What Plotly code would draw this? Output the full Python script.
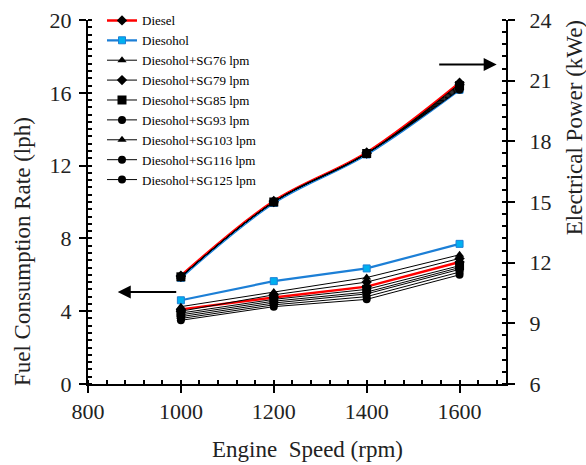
import plotly.graph_objects as go

# ---------------- data ----------------
speeds = [1000, 1200, 1400, 1600]
series_names = ["Diesel", "Diesohol", "Diesohol+SG76 lpm", "Diesohol+SG79 lpm",
                "Diesohol+SG85 lpm", "Diesohol+SG93 lpm", "Diesohol+SG103 lpm",
                "Diesohol+SG116 lpm", "Diesohol+SG125 lpm"]

# fuel consumption rate (lph), left axis
fuel_diesel = [4.10, 4.75, 5.35, 6.70]
fuel_diesohol = [4.60, 5.65, 6.35, 7.70]
fuel_sg76 = [4.25, 5.05, 5.85, 7.10]
fuel_sg79 = [4.00, 4.90, 5.60, 6.90]
fuel_sg85 = [3.90, 4.65, 5.20, 6.50]
fuel_sg93 = [3.80, 4.55, 5.05, 6.40]
fuel_sg103 = [3.70, 4.45, 4.95, 6.30]
fuel_sg116 = [3.60, 4.35, 4.80, 6.15]
fuel_sg125 = [3.50, 4.25, 4.65, 6.00]

# electrical power (kWe), right axis
power_diesel = [11.35, 15.05, 17.45, 20.90]
power_diesohol = [11.25, 14.95, 17.35, 20.55]
power_sg76 = [11.30, 15.00, 17.40, 20.85]
power_sg79 = [11.30, 15.00, 17.40, 20.80]
power_sg85 = [11.30, 15.00, 17.40, 20.75]
power_sg93 = [11.30, 15.00, 17.40, 20.70]
power_sg103 = [11.30, 15.00, 17.40, 20.65]
power_sg116 = [11.30, 15.00, 17.40, 20.60]
power_sg125 = [11.30, 15.00, 17.40, 20.55]

x_ticks = [800, 1000, 1200, 1400, 1600]
y1_ticks = [0, 4, 8, 12, 16, 20]
y2_ticks = [6, 9, 12, 15, 18, 21, 24]

fuel_all = [fuel_diesel, fuel_diesohol, fuel_sg76, fuel_sg79, fuel_sg85,
            fuel_sg93, fuel_sg103, fuel_sg116, fuel_sg125]
power_all = [power_diesel, power_diesohol, power_sg76, power_sg79, power_sg85,
             power_sg93, power_sg103, power_sg116, power_sg125]

# ---------------- styles ----------------
FONT = "Liberation Serif, Times New Roman, serif"
styles = [
    dict(line=dict(color="#FF0000", width=2.5), marker=dict(symbol="diamond", size=8, color="black")),
    dict(line=dict(color="#1C7FD6", width=2.2), marker=dict(symbol="square", size=7, color="#00B0F0",
                                                           line=dict(color="#1C7FD6", width=1))),
    dict(line=dict(color="black", width=1), marker=dict(symbol="triangle-up", size=8, color="black")),
    dict(line=dict(color="black", width=1), marker=dict(symbol="diamond", size=8, color="black")),
    dict(line=dict(color="black", width=1), marker=dict(symbol="square", size=9, color="black")),
    dict(line=dict(color="black", width=1), marker=dict(symbol="circle", size=8, color="black")),
    dict(line=dict(color="black", width=1), marker=dict(symbol="triangle-up", size=8, color="black")),
    dict(line=dict(color="black", width=1), marker=dict(symbol="circle", size=8, color="black")),
    dict(line=dict(color="black", width=1), marker=dict(symbol="circle", size=8, color="black")),
]

fig = go.Figure()
for name, vals, st in zip(series_names, fuel_all, styles):
    fig.add_trace(go.Scatter(x=speeds, y=vals, name=name, mode="lines+markers",
                             line=st["line"], marker=st["marker"], yaxis="y"))
for name, vals, st in zip(series_names, power_all, styles):
    ln = dict(st["line"]); ln["shape"] = "spline"
    fig.add_trace(go.Scatter(x=speeds, y=vals, name=name, mode="lines+markers",
                             line=ln, marker=st["marker"], yaxis="y2", showlegend=False))

axis_common = dict(showgrid=False, zeroline=False, showline=True, linecolor="black", linewidth=2,
                   ticks="outside", ticklen=7, tickwidth=2, tickcolor="black",
                   tickfont=dict(family=FONT, size=22, color="#222"))

fig.update_layout(
    width=586, height=465,
    margin=dict(l=88, r=80, t=20, b=81, autoexpand=False),
    paper_bgcolor="white", plot_bgcolor="white",
    showlegend=True,
    xaxis=dict(range=[800, 1700], tickvals=x_ticks, **axis_common,
               minor=dict(dtick=40, tick0=800, ticks="inside", ticklen=4, tickwidth=1.5, tickcolor="black")),
    yaxis=dict(range=[0, 20], tickvals=y1_ticks, ticklabelstandoff=3, **axis_common,
               minor=dict(dtick=0.4, tick0=0, ticks="inside", ticklen=4, tickwidth=1.5, tickcolor="black")),
    yaxis2=dict(range=[6, 24], tickvals=y2_ticks, overlaying="y", side="right", ticklabelstandoff=10,
                **axis_common,
                minor=dict(dtick=0.6, tick0=6, ticks="inside", ticklen=4, tickwidth=1.5, tickcolor="black")),
    legend=dict(x=0.0335, y=1.04, xanchor="left", yanchor="top", bgcolor="rgba(0,0,0,0)",
                font=dict(family=FONT, size=13, color="black"), tracegroupgap=0, itemwidth=30),
    font=dict(family=FONT, color="#222"),
)

fig.add_annotation(text="Fuel Consumption Rate (lph)", xref="paper", yref="paper",
                   x=-0.158, y=0.365, xanchor="center", yanchor="middle", textangle=-90, showarrow=False,
                   font=dict(family=FONT, size=23, color="#222"))
fig.add_annotation(text="Electrical Power (kWe)", xref="paper", yref="paper",
                   x=1.163, y=0.703, xanchor="center", yanchor="middle", textangle=-90, showarrow=False,
                   font=dict(family=FONT, size=23, color="#222"))
fig.add_annotation(text="Engine\u00a0 Speed (rpm)", xref="paper", yref="paper",
                   x=0.526, y=-0.181, xanchor="center", yanchor="middle", showarrow=False,
                   font=dict(family=FONT, size=23, color="#222"))

# arrows pointing to the axes
fig.add_annotation(x=864, y=5.05, xref="x", yref="y", ax=60, ay=0, text="",
                   showarrow=True, arrowhead=2, arrowsize=1.3, arrowwidth=2, arrowcolor="black")
fig.add_annotation(x=1680, y=21.8, xref="x", yref="y2", ax=-59, ay=0, text="",
                   showarrow=True, arrowhead=2, arrowsize=1.3, arrowwidth=2, arrowcolor="black")

fig.write_html("out.html", config={"displayModeBar": False},
               post_script="document.body.style.margin='0px';document.body.style.overflow='hidden';")
